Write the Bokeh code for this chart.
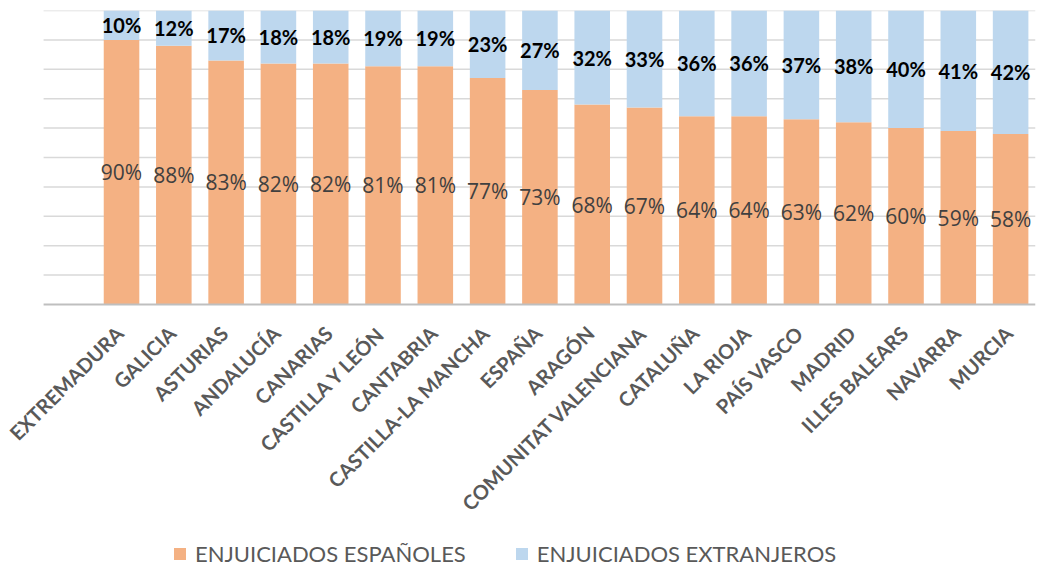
from bokeh.plotting import figure
from bokeh.models import ColumnDataSource, Legend, LegendItem, Range1d
from bokeh.core.properties import value
from bokeh.embed import file_html
from bokeh.resources import INLINE

regions = ["EXTREMADURA", "GALICIA", "ASTURIAS", "ANDALUCÍA", "CANARIAS", "CASTILLA Y LEÓN",
           "CANTABRIA", "CASTILLA-LA MANCHA", "ESPAÑA", "ARAGÓN", "COMUNITAT VALENCIANA",
           "CATALUÑA", "LA RIOJA", "PAÍS VASCO", "MADRID", "ILLES BALEARS", "NAVARRA", "MURCIA"]
espanoles = [90, 88, 83, 82, 82, 81, 81, 77, 73, 68, 67, 64, 64, 63, 62, 60, 59, 58]
extranjeros = [10, 12, 17, 18, 18, 19, 19, 23, 27, 32, 33, 36, 36, 37, 38, 40, 41, 42]
grid_ticks = [0, 10, 20, 30, 40, 50, 60, 70, 80, 90, 100]
series_names = ["ENJUICIADOS ESPAÑOLES", "ENJUICIADOS EXTRANJEROS"]

ORANGE = "#F4B183"
BLUE = "#BDD7EE"
FONT = "Lato"

xs = list(range(len(regions)))
src = ColumnDataSource(dict(
    x=xs,
    zero=[0] * len(regions),
    name=regions,
    esp=espanoles,
    ext=extranjeros,
    tot=[a + b for a, b in zip(espanoles, extranjeros)],
    esp_mid=[a / 2 for a in espanoles],
    ext_mid=[a + b / 2 for a, b in zip(espanoles, extranjeros)],
    esp_lbl=[f"{v}%" for v in espanoles],
    ext_lbl=[f"{v}%" for v in extranjeros],
))

# layout: frame spans the whole page; plot area (gridlines) starts 1.5 slots left of first bar
PX_PER_UNIT = 2.94
FRAME_H = 560
X_START, X_END = -2.314, 17.476
GRID_LEFT = -1.49

p = figure(frame_width=1035, frame_height=FRAME_H, output_backend="svg", toolbar_location=None,
           x_range=Range1d(X_START, X_END), y_range=Range1d(100 - FRAME_H / PX_PER_UNIT, 100),
           min_border_left=0, min_border_right=3, min_border_top=10, min_border_bottom=0)
p.outline_line_color = None
p.background_fill_color = "white"
p.xaxis.visible = False
p.yaxis.visible = False
p.xgrid.visible = False
p.ygrid.visible = False

# horizontal gridlines limited to the plot area
gsrc = ColumnDataSource(dict(y=grid_ticks[1:], x0=[GRID_LEFT] * (len(grid_ticks) - 1),
                             x1=[X_END] * (len(grid_ticks) - 1)))
p.segment(x0="x0", y0="y", x1="x1", y1="y", source=gsrc, line_color="#D9D9D9", line_width=1.5)

r1 = p.vbar(x="x", top="esp", bottom=0, width=0.68, source=src, fill_color=ORANGE, line_color=None)
r2 = p.vbar(x="x", top="tot", bottom="esp", width=0.68, source=src, fill_color=BLUE, line_color=None)

# category axis line
p.segment(x0=[GRID_LEFT], y0=[grid_ticks[0]], x1=[X_END], y1=[grid_ticks[0]],
          line_color="#BFBFBF", line_width=2)

p.text(x="x", y="esp_mid", text="esp_lbl", source=src, text_align="center", text_baseline="middle",
       text_font=value("Open Sans"), text_font_size="21px", text_color="#404040")
p.text(x="x", y="ext_mid", text="ext_lbl", source=src, text_align="center", text_baseline="middle",
       text_font=value(FONT), text_font_size="20px", text_font_style="bold", text_color="#000000")

# category labels (rotated 45°)
p.text(x="x", y="zero", text="name", source=src, angle=0.785398, text_align="right",
       text_baseline="middle", x_offset=-2, y_offset=25,
       text_font=value(FONT), text_font_size="20px", text_font_style="bold", text_color="#595959")

legend = Legend(items=[LegendItem(label=series_names[0], renderers=[r1]),
                       LegendItem(label=series_names[1], renderers=[r2])],
                orientation="horizontal", location=(172, 3), margin=0, padding=0,
                label_text_font=FONT, label_text_font_size="22px", label_text_color="#595959",
                label_standoff=8, label_height=25,
                glyph_width=15, glyph_height=15, spacing=48, border_line_color=None,
                background_fill_alpha=0)
p.add_layout(legend)

open("out.html", "w").write(file_html(p, INLINE))
